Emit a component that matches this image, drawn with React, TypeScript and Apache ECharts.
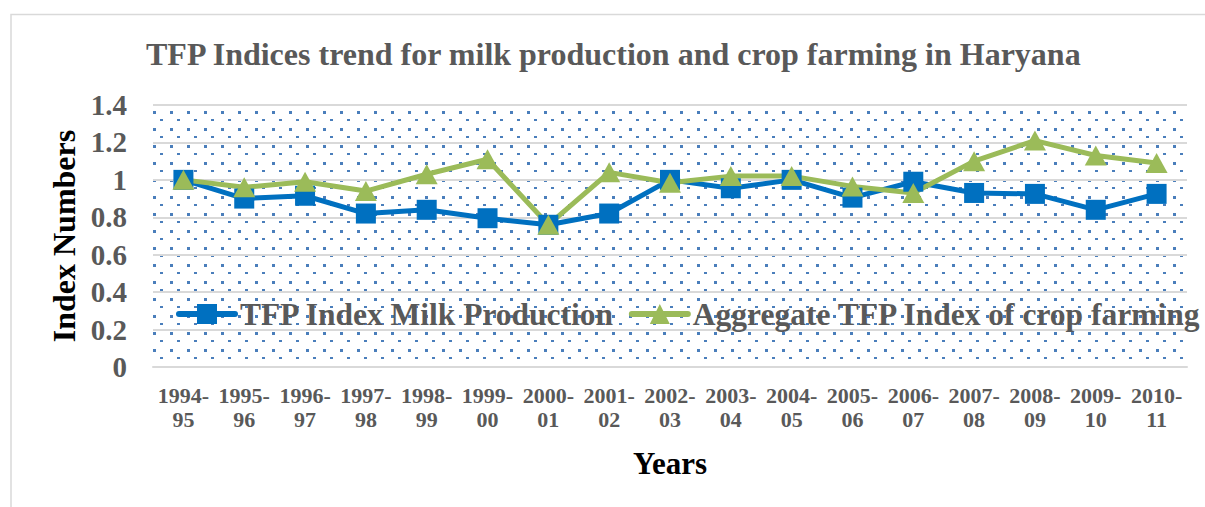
import React, { useEffect, useRef } from "react";
import * as echarts from "echarts";

const categories = [
  "1994-95", "1995-96", "1996-97", "1997-98", "1998-99", "1999-00", "2000-01", "2001-02",
  "2002-03", "2003-04", "2004-05", "2005-06", "2006-07", "2007-08", "2008-09", "2009-10", "2010-11",
];
const milkProduction = [1.0, 0.9, 0.915, 0.82, 0.84, 0.795, 0.76, 0.82, 1.0, 0.955, 1.0, 0.905, 0.99, 0.93, 0.925, 0.84, 0.925];
const cropFarming = [1.0, 0.96, 0.99, 0.94, 1.03, 1.11, 0.76, 1.04, 0.985, 1.02, 1.02, 0.965, 0.93, 1.1, 1.21, 1.13, 1.09];
const seriesNames = ["TFP Index Milk Production", "Aggregate TFP Index of crop farming"];
const titleText = "TFP Indices trend for milk production and crop farming in Haryana";
const yAxisTitle = "Index Numbers";
const xAxisTitle = "Years";

const FONT = "'Liberation Serif', 'Times New Roman', serif";
const GRAY = "#595959";
const GRID_GRAY = "#d9d9d9";

function makeDotPattern() {
  const c = document.createElement("canvas");
  c.width = 17;
  c.height = 17;
  const ctx = c.getContext("2d")!;
  ctx.fillStyle = "#4a7ebb";
  ctx.fillRect(0, 9, 3, 3);
  ctx.fillRect(7, 0, 3, 2);
  return c;
}

export default function App() {
  const ref = useRef<HTMLDivElement>(null);
  useEffect(() => {
    if (!ref.current) return;
    const chart = echarts.init(ref.current, null, { renderer: "svg" });
    const pattern = makeDotPattern();
    chart.setOption({
      animation: false,
      backgroundColor: "#ffffff",
      title: {
        text: titleText,
        left: 146,
        top: 38,
        padding: 0,
        textStyle: { fontFamily: FONT, fontSize: 32, fontWeight: "bold", color: GRAY },
      },
      graphic: [
        {
          type: "rect",
          shape: { x: 11, y: 14.5, width: 1400, height: 700 },
          style: { fill: "none", stroke: GRID_GRAY, lineWidth: 1.5 },
          silent: true,
          z: -1,
        },
      ],
      legend: {
        left: 176,
        top: 298,
        width: 1100,
        padding: 0,
        itemWidth: 56,
        itemHeight: 25,
        itemGap: 14,
        data: seriesNames,
        lineStyle: { width: 6, cap: "round" },
        textStyle: { fontFamily: FONT, fontSize: 31.5, fontWeight: "bold", color: GRAY },
      },
      grid: {
        left: 153,
        top: 105,
        right: 18,
        bottom: 140,
        show: true,
        borderWidth: 0,
        backgroundColor: { image: pattern, repeat: "repeat", imageWidth: 17, imageHeight: 17 },
      },
      xAxis: {
        type: "category",
        data: categories,
        boundaryGap: true,
        name: xAxisTitle,
        nameLocation: "middle",
        nameGap: 81,
        nameTextStyle: { fontFamily: FONT, fontSize: 31, fontWeight: "bold", color: "#000" },
        axisLine: { lineStyle: { color: GRID_GRAY, width: 2 } },
        axisTick: { show: false },
        axisLabel: {
          interval: 0,
          margin: 16,
          fontFamily: FONT,
          fontSize: 22,
          fontWeight: "bold",
          color: GRAY,
          lineHeight: 24,
          formatter: (v: string) => v.replace("-", "-\n"),
        },
      },
      yAxis: {
        type: "value",
        min: 0,
        max: 1.4,
        interval: 0.2,
        name: yAxisTitle,
        nameLocation: "middle",
        nameGap: 72,
        nameTextStyle: { fontFamily: FONT, fontSize: 32, fontWeight: "bold", color: "#000" },
        axisLine: { show: false },
        axisTick: { show: false },
        axisLabel: { margin: 26, fontFamily: FONT, fontSize: 29, fontWeight: "bold", color: GRAY },
        splitLine: { lineStyle: { color: GRID_GRAY, width: 2 } },
      },
      series: [
        {
          name: seriesNames[0],
          type: "line",
          data: milkProduction,
          symbol: "rect",
          symbolSize: 20,
          color: "#0070C0",
          lineStyle: { width: 5, color: "#0070C0", join: "round" },
          itemStyle: { color: "#0070C0" },
        },
        {
          name: seriesNames[1],
          type: "line",
          data: cropFarming,
          symbol: "triangle",
          symbolSize: [22, 20],
          color: "#9BBB59",
          lineStyle: { width: 5, color: "#9BBB59", join: "round" },
          itemStyle: { color: "#9BBB59" },
        },
      ],
    });
    return () => chart.dispose();
  }, []);
  return (
    <div
      ref={ref}
      style={{ position: "absolute", left: 0, top: 0, width: 1205, height: 507, background: "#fff" }}
    />
  );
}
